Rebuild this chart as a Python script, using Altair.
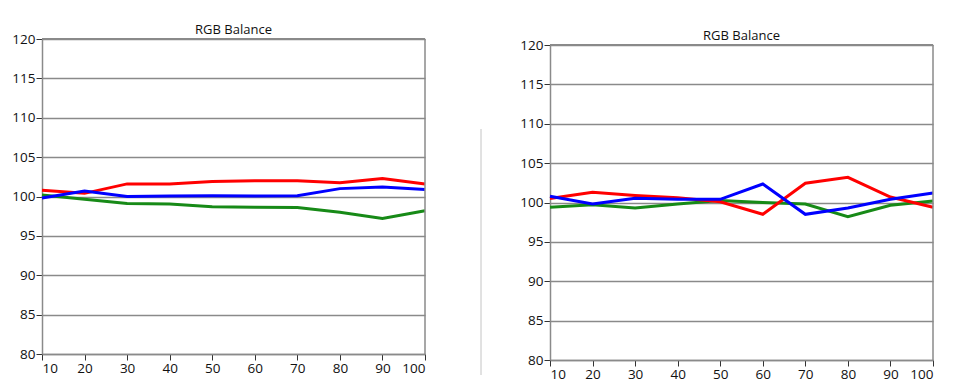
import altair as alt
import pandas as pd

x_vals = [10, 20, 30, 40, 50, 60, 70, 80, 90, 100]
y_ticks = [80, 85, 90, 95, 100, 105, 110, 115, 120]
chart_title = "RGB Balance"

left_red = [100.8, 100.4, 101.6, 101.6, 101.9, 102.0, 102.0, 101.75, 102.3, 101.6]
left_green = [100.2, 99.65, 99.1, 99.05, 98.7, 98.65, 98.6, 98.0, 97.2, 98.2]
left_blue = [99.8, 100.7, 100.0, 100.05, 100.1, 100.05, 100.1, 101.0, 101.2, 100.9]

right_red = [100.5, 101.3, 100.9, 100.6, 100.1, 98.5, 102.45, 103.2, 100.7, 99.4]
right_green = [99.4, 99.7, 99.3, 99.8, 100.25, 100.0, 99.8, 98.2, 99.65, 100.2]
right_blue = [100.8, 99.8, 100.55, 100.4, 100.4, 102.35, 98.5, 99.3, 100.4, 101.2]

series_names = ["Green", "Red", "Blue"]
series_colors = {"Red": "#ff0000", "Green": "#178a17", "Blue": "#0000ff"}

FONT = "Open Sans"
W, H = 383, 315
FRAME = "#8a8a8a"


def panel(red, green, blue, extras, top):
    # top: vertical shift (px) of the visible frame inside the view
    df = pd.DataFrame({
        "x": x_vals * 3,
        "v": red + green + blue,
        "s": ["Red"] * len(x_vals) + ["Green"] * len(x_vals) + ["Blue"] * len(x_vals),
    })
    xscale = alt.Scale(domain=[10, 100], nice=False, zero=False)
    yscale = alt.Scale(domain=[80, 120], nice=False, zero=False, range=[H + top, top])
    xaxis = alt.Axis(values=x_vals, grid=False, title=None, labelOverlap=False)
    yaxis = alt.Axis(values=y_ticks, grid=True, title=None, labelOverlap=False)
    layers = []
    for name in series_names:
        layers.append(
            alt.Chart(df).transform_filter(alt.datum.s == name)
            .mark_line(color=series_colors[name], strokeWidth=3)
            .encode(x=alt.X("x:Q", scale=xscale, axis=xaxis),
                    y=alt.Y("v:Q", scale=yscale, axis=yaxis))
        )
    # right and top edges of the frame, spanning the data domain
    edge = pd.DataFrame({"x": [100], "v": [80], "v2": [120]})
    layers.append(
        alt.Chart(edge).mark_rule(color=FRAME, strokeWidth=1.5).encode(
            x=alt.X("x:Q", scale=xscale, axis=xaxis),
            y=alt.Y("v:Q", scale=yscale, axis=yaxis), y2="v2:Q")
    )
    layers.append(
        alt.Chart(edge).mark_rule(color=FRAME, strokeWidth=2).encode(
            x=alt.value(0), x2=alt.value(W),
            y=alt.Y("v2:Q", scale=yscale, axis=yaxis))
    )
    title_mark = alt.Chart(pd.DataFrame({"t": [chart_title]})).mark_text(
        font=FONT, fontSize=13, color="#111", align="center", baseline="alphabetic"
    ).encode(text="t:N", x=alt.value(W / 2), y=alt.value(top - 5))
    layers.append(title_mark)
    layers.extend(extras)
    return alt.layer(*layers).properties(
        width=W, height=H + top,
        view=alt.ViewBackground(stroke="transparent"),
    )


one = pd.DataFrame({"a": [0]})
# invisible layout anchors (bounds only)
left_anchor_tl = alt.Chart(one).mark_rule(opacity=0, strokeWidth=1).encode(
    x=alt.value(-33), y=alt.value(-30), y2=alt.value(-30))
left_anchor_r = alt.Chart(one).mark_rule(opacity=0, strokeWidth=1).encode(
    x=alt.value(403), y=alt.value(0), y2=alt.value(0))
divider = alt.Chart(one).mark_rule(color="#c4c4c4", strokeWidth=1).encode(
    x=alt.value(-69), y=alt.value(90), y2=alt.value(336))

left = panel(left_red, left_green, left_blue, [left_anchor_tl, left_anchor_r], 0)
right = panel(right_red, right_green, right_blue, [divider], 6)

chart = alt.hconcat(left, right, spacing=34, bounds="full").properties(
    padding={"left": 0, "top": 0, "right": 5, "bottom": 0}
).configure_axis(
    labelFont=FONT, labelFontSize=13.5, labelColor="#111",
    domainColor=FRAME, domainWidth=1.5,
    tickColor="#333", tickSize=6, tickWidth=1,
    gridColor=FRAME, gridWidth=1.3,
    labelPadding=1,
)

chart.save("out.html", embed_options={"renderer": "svg", "actions": False})
